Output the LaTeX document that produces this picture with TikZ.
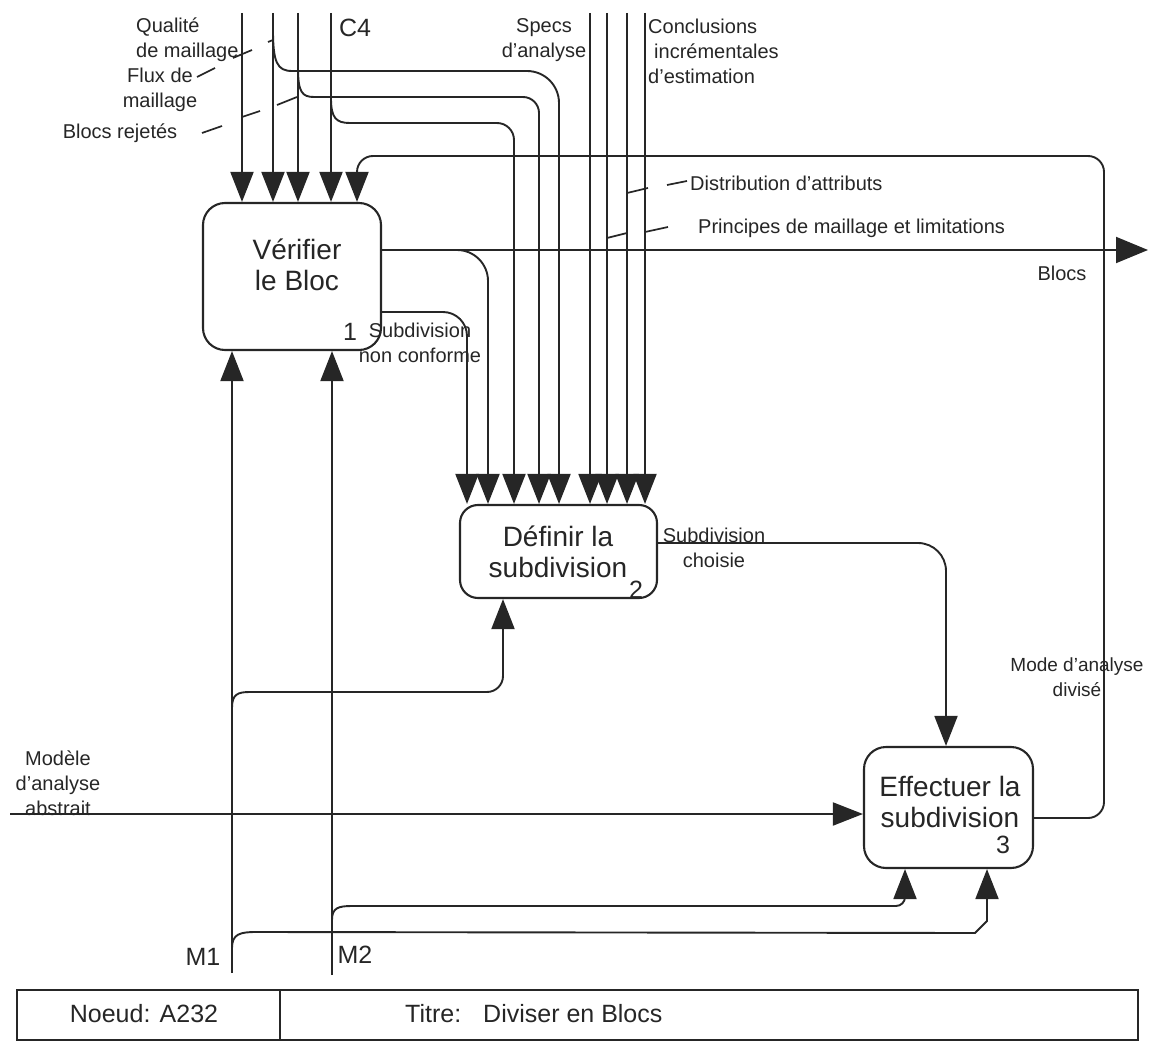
\documentclass[tikz,border=0pt]{standalone}
\usepackage{fontspec}
\setmainfont{Liberation Sans}
\usetikzlibrary{arrows.meta}
\begin{document}
\begin{tikzpicture}[x=1pt,y=-1pt,
  ln/.style={line width=1.9pt, draw=black!85},
  arr/.style={ln, -{Triangle[length=30pt,width=23pt]}},
  lbl/.style={font=\fontsize{20}{25}\selectfont, inner sep=0pt, align=center, text=black!85},
  big/.style={font=\fontsize{28}{31}\selectfont, inner sep=0pt, align=center, text=black!85},
  mid/.style={font=\fontsize{25}{28}\selectfont, inner sep=0pt, text=black!85},
  proc/.style={draw=black!85, line width=2.1pt, rounded corners=22pt, inner sep=0pt, fill=white},
  leader/.style={line width=1.7pt, draw=black!85}
]
\useasboundingbox (0,0) rectangle (1152,1043);

% activity boxes
\node[proc, minimum width=178pt, minimum height=147pt] (b1) at (292,276.5) {};
\node[proc, rounded corners=18pt, minimum width=197pt, minimum height=93pt] (b2) at (558.5,551.5) {};
\node[proc, minimum width=169pt, minimum height=121pt] (b3) at (948.5,807.5) {};

\node[big] (t1) at (297,265) {Vérifier\\le Bloc};
\node[mid] (n1) at (350,332) {1};
\node[big] (t2) at (558,552) {Définir la\\subdivision};
\node[mid] (n2) at (636,590) {2};
\node[big] (t3) at (950,802) {Effectuer la\\subdivision};
\node[mid] (n3) at (1003,845) {3};

% top arrows into box 1
\coordinate (qa) at (242,13);
\coordinate (qb) at (273,13);
\coordinate (qc) at (298,13);
\coordinate (qd) at (331,13);
\draw[arr] (qa) -- (qa |- b1.north);
\draw[arr] (qb) -- (qb |- b1.north);
\draw[arr] (qc) -- (qc |- b1.north);
\draw[arr] (qd) -- (qd |- b1.north);

% branches to box 2
\coordinate (kb) at (292,71);
\coordinate (cb) at (559,71);
\draw[ln] (273,30) .. controls (273,62) and (277,71) .. (kb);
\draw[arr, rounded corners=32pt] (kb) -- (cb) -- (cb |- b2.north);
\coordinate (kc) at (314,97);
\coordinate (cc) at (539,97);
\draw[ln] (298,68) .. controls (298,92) and (302,97) .. (kc);
\draw[arr, rounded corners=16pt] (kc) -- (cc) -- (cc |- b2.north);
\coordinate (kd) at (350,123);
\coordinate (cd) at (514,123);
\draw[ln] (331,98) .. controls (331,118) and (336,123) .. (kd);
\draw[arr, rounded corners=17pt] (kd) -- (cd) -- (cd |- b2.north);

% top arrows into box 2
\coordinate (qe) at (590,13);
\coordinate (qf) at (607,13);
\coordinate (qg) at (627,13);
\coordinate (qh) at (645,13);
\draw[arr] (qe) -- (qe |- b2.north);
\draw[arr] (qf) -- (qf |- b2.north);
\draw[arr] (qg) -- (qg |- b2.north);
\draw[arr] (qh) -- (qh |- b2.north);

% outputs of box 1
\coordinate (bo) at (b1.east |- 0,250);
\coordinate (bend) at (1148,250);
\draw[arr, -{Triangle[length=32pt,width=26pt]}] (bo) -- (bend);
\coordinate (bbr) at (440,250);
\coordinate (bbc) at (488,250);
\draw[arr, rounded corners=31pt] (bbr) -- (bbc) -- (bbc |- b2.north);
\coordinate (so) at (b1.east |- 0,312);
\coordinate (sc) at (467,312);
\draw[arr, rounded corners=24pt] (so) -- (sc) -- (sc |- b2.north);

% output of box 2
\coordinate (co) at (b2.east |- 0,543);
\coordinate (cc2) at (946,543);
\draw[arr, rounded corners=28pt] (co) -- (cc2) -- (cc2 |- b3.north);

% output of box 3 (feedback)
\coordinate (fo) at (b3.east |- 0,818);
\coordinate (fa) at (1104,818);
\coordinate (fb) at (1104,156);
\coordinate (fc) at (357,156);
\draw[arr, rounded corners=16pt] (fo) -- (fa) -- (fb) -- (fc) -- (fc |- b1.north);

% input of box 3
\coordinate (mod) at (10,814);
\draw[arr] (mod) -- (mod -| b3.west);

% mechanisms
\coordinate (m1) at (232,973);
\coordinate (m2) at (332,975);
\draw[arr] (m1) -- (m1 |- b1.south);
\draw[arr] (m2) -- (m2 |- b1.south);
\coordinate (ka) at (250,692);
\coordinate (ca) at (503,692);
\draw[ln] (232,708) .. controls (232,694) and (238,692) .. (ka);
\draw[arr, rounded corners=16pt] (ka) -- (ca) -- (ca |- b2.south);
\coordinate (ke) at (352,906);
\coordinate (ce) at (905,906);
\draw[ln] (332,920) .. controls (332,908) and (338,906) .. (ke);
\draw[arr, rounded corners=9pt] (ke) -- (ce) -- (ce |- b3.south);
\coordinate (kf) at (256,932);
\coordinate (cf1) at (975,933);
\coordinate (cf2) at (987,921);
\draw[ln] (232,948) .. controls (232,934) and (240,932) .. (kf);
\draw[arr] (kf) -- (cf1) -- (cf2) -- (cf2 |- b3.south);

% leaders
\draw[leader] (197,77) -- (215,68);
\draw[leader] (233,58) -- (252,50);
\draw[leader] (268,42) -- (273,40);
\draw[leader] (202,133) -- (222,126);
\draw[leader] (242,117) -- (260,111);
\draw[leader] (277,105) -- (297,97);
\draw[leader] (627,193) -- (648,188);
\draw[leader] (667,185) -- (687,181);
\draw[leader] (607,238) -- (627,233);
\draw[leader] (645,232) -- (668,227);

% labels
\node[lbl, align=left, anchor=west] (lq) at (136,40) {Qualité\\de maillage};
\node[lbl] (lf) at (160,90) {Flux de\\maillage};
\node[lbl] (lr) at (120,133) {Blocs rejetés};
\node[mid] (lc4) at (355,28) {C4};
\node[lbl] (ls) at (544,40) {Specs\\d'analyse};
\node[lbl, align=left, anchor=west] (lci) at (648,51) {Conclusions\\\hspace*{6pt}incrémentales\\d'estimation};
\node[lbl, anchor=west] (ld) at (690,183) {Distribution d'attributs};
\node[lbl, anchor=west] (lp) at (698,228) {Principes de maillage et limitations};
\node[lbl] (lb) at (1062,273) {Blocs};
\node[lbl] (lsn) at (420,343) {Subdivision\\non conforme};
\node[lbl] (lsc) at (714,548) {Subdivision\\choisie};
\node[lbl, font=\fontsize{19}{25}\selectfont] (lm) at (1077,677) {Mode d'analyse\\divisé};
\node[lbl] (lma) at (58,783) {Modèle\\d'analyse\\abstrait};
\node[mid] (lm1) at (203,957) {M1};
\node[mid] (lm2) at (355,955) {M2};

% title block
\node[draw=black!85, line width=1.9pt, minimum width=1121pt, minimum height=50pt, inner sep=0pt] (tbk) at (577.5,1015) {};
\coordinate (dv) at (280,0);
\draw[ln] (dv |- tbk.north) -- (dv |- tbk.south);
\node[mid] (nd) at (144,1014) {Noeud: A232};
\node[mid, anchor=west] (ti) at (405,1014) {Titre:};
\node[mid, anchor=west] (tv) at (483,1014) {Diviser en Blocs};
\end{tikzpicture}
\end{document}
